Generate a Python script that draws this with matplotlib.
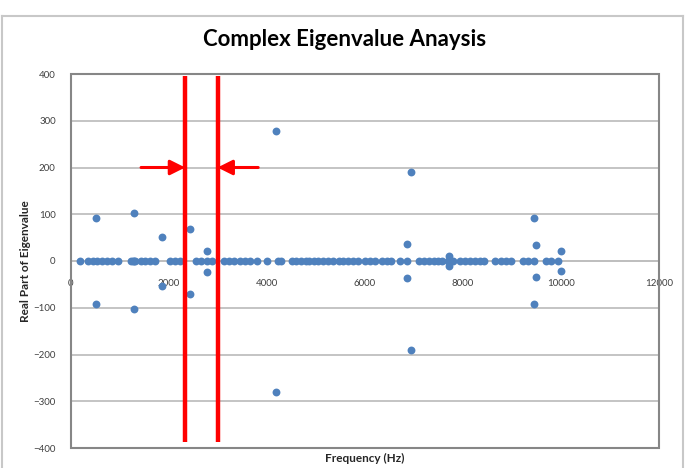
import matplotlib
matplotlib.use('Agg')
import matplotlib.pyplot as plt
from matplotlib.lines import Line2D
from matplotlib.patches import Rectangle

# eigenvalues sitting on the real = 0 line (Hz)
zero_freq = [190, 340, 440, 540, 640, 740, 840, 950,
             1220, 1260, 1290, 1310, 1420, 1520, 1620, 1720,
             2020, 2120, 2220, 2560, 2660, 2770, 2870,
             3120, 3220, 3320, 3440, 3550, 3660, 3790, 3990,
             4220, 4290, 4500, 4600, 4700, 4790, 4850, 4950,
             5050, 5150, 5250, 5350, 5460, 5560, 5660, 5760, 5860,
             6000, 6100, 6200, 6340, 6440, 6540, 6710, 6850,
             7100, 7200, 7300, 7400, 7500, 7580, 7700, 7740, 7800,
             7940, 8040, 8140, 8240, 8350, 8420, 8650, 8780, 8880,
             8980, 9230, 9330, 9440, 9700, 9800, 9930]

# eigenvalues with non-zero real part
pair_freq = [520, 520, 1290, 1290, 1850, 1850, 2420, 2420, 2770, 2770,
             4180, 4180, 6850, 6850, 6940, 6940, 7720, 7720,
             9440, 9440, 9490, 9490, 10000, 10000]
pair_real = [93, -92, 103, -103, 51, -53, 69, -71, 21, -23,
             278, -280, 37, -36, 190, -190, 10, -10,
             91, -93, 35, -35, 21, -21]

# band limits marked in red
band_lo = 2330
band_hi = 2990

freq = zero_freq + pair_freq
real = [0] * len(zero_freq) + pair_real

plt.rcParams['font.family'] = ['Lato', 'DejaVu Sans']

fig = plt.figure(figsize=(6.92, 4.68), dpi=100)
ax = fig.add_axes([71 / 692, 1 - 448 / 468, 588 / 692, 374 / 468])

grid_c = '#bfbfbf'
ax.set_xlim(0, 12000)
ax.set_ylim(-400, 400)
ax.set_yticks(range(-400, 401, 100))
ax.set_xticks(range(0, 12001, 2000))
ax.yaxis.grid(True, color=grid_c, lw=1.3)
ax.set_axisbelow(True)

for s in ['top', 'right', 'left']:
    ax.spines[s].set_visible(False)
ax.spines['bottom'].set_position(('data', 0))
ax.spines['bottom'].set_color(grid_c)
ax.spines['bottom'].set_linewidth(1.3)
ax.add_patch(Rectangle((0, 0), 1, 1, transform=ax.transAxes, fill=False,
                       ec='#868686', lw=1.5, clip_on=False, zorder=5))
ax.tick_params(length=0, labelsize=7, colors='#404040')
ax.tick_params(axis='x', pad=13)
ax.tick_params(axis='y', pad=11)

ax.scatter(freq, real, s=32, color='#4f81bd', zorder=3, linewidths=0)

ax.vlines([band_lo, band_hi], -387, 395, color='red', lw=3.2, zorder=4)
ax.annotate('', xy=(band_lo, 200), xytext=(1430, 200),
            arrowprops=dict(arrowstyle='-|>,head_length=0.9,head_width=0.45',
                            color='red', lw=2.2, shrinkA=0, shrinkB=0), zorder=4)
ax.annotate('', xy=(band_hi, 200), xytext=(3820, 200),
            arrowprops=dict(arrowstyle='-|>,head_length=0.9,head_width=0.45',
                            color='red', lw=2.2, shrinkA=0, shrinkB=0), zorder=4)

ax.set_title('Complex Eigenvalue Anaysis', fontsize=16, fontweight='bold',
             pad=20, x=(345 - 71) / 588)
ax.set_xlabel('Frequency (Hz)', fontsize=8.5, fontweight='bold', color='#262626')
ax.xaxis.set_label_coords(0.5, -0.012)
ax.set_ylabel('Real Part of Eigenvalue', fontsize=8.5, fontweight='bold', color='#262626')
ax.yaxis.set_label_coords(-0.068, 0.5)

# light outer chart frame
for xs, ys in [((2 / 692, 2 / 692), (0, 1 - 16 / 468)),
               ((683 / 692, 683 / 692), (0, 1 - 16 / 468)),
               ((2 / 692, 683 / 692), (1 - 16 / 468, 1 - 16 / 468))]:
    fig.add_artist(Line2D(xs, ys, color='#c8c8c8', lw=1.5))

fig.savefig('out.png', dpi=100)
